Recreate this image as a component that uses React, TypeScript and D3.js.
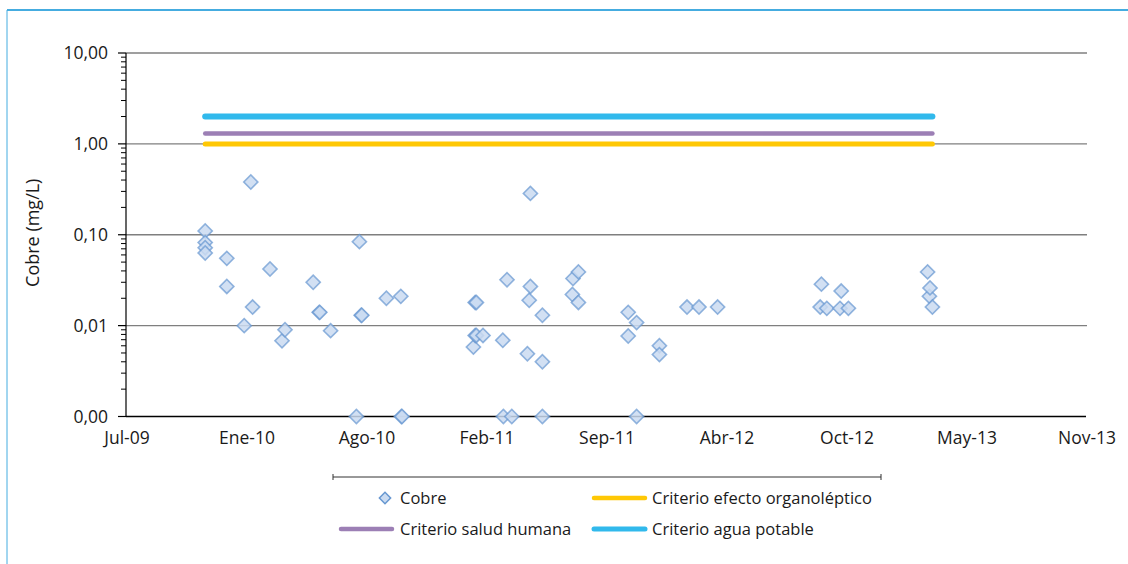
import React from "react";
import * as d3 from "d3";

// Copper samples: [date, mg/L]. Values at 0.001 are below detection and sit on the axis floor.
const cobreDates: string[] = [
  "2009-11-15", "2009-11-15", "2009-11-15", "2009-11-15",
  "2009-12-21", "2009-12-21",
  "2010-01-19", "2010-01-30", "2010-02-02", "2010-03-03",
  "2010-03-23", "2010-03-28", "2010-05-14", "2010-05-24", "2010-05-25",
  "2010-06-12", "2010-07-25", "2010-07-30", "2010-08-02", "2010-08-03",
  "2010-09-13", "2010-10-07", "2010-10-08", "2010-10-09",
  "2011-02-05", "2011-02-08", "2011-02-08", "2011-02-10", "2011-02-10", "2011-02-21",
  "2011-03-26", "2011-03-27", "2011-04-02", "2011-04-10",
  "2011-05-06", "2011-05-09", "2011-05-11", "2011-05-11",
  "2011-05-31", "2011-05-31", "2011-05-31",
  "2011-07-20", "2011-07-21", "2011-07-30", "2011-07-30",
  "2011-10-21", "2011-10-21", "2011-11-04", "2011-11-04",
  "2011-12-12", "2011-12-12",
  "2012-01-27", "2012-02-16", "2012-03-18",
  "2012-09-05", "2012-09-07", "2012-09-16",
  "2012-10-08", "2012-10-10", "2012-10-22",
  "2013-03-03", "2013-03-06", "2013-03-07", "2013-03-11",
];
const cobreValues: number[] = [
  0.11, 0.082, 0.072, 0.063,
  0.055, 0.027,
  0.010, 0.38, 0.016, 0.042,
  0.0068, 0.009, 0.030, 0.014, 0.014,
  0.0088, 0.001, 0.084, 0.013, 0.013,
  0.020, 0.021, 0.001, 0.001,
  0.0058, 0.018, 0.0078, 0.018, 0.0078, 0.0078,
  0.0069, 0.001, 0.032, 0.001,
  0.0049, 0.019, 0.285, 0.027,
  0.013, 0.004, 0.001,
  0.022, 0.033, 0.039, 0.018,
  0.014, 0.0077, 0.0108, 0.001,
  0.006, 0.0048,
  0.016, 0.016, 0.016,
  0.016, 0.0286, 0.0155,
  0.0155, 0.024, 0.0155,
  0.039, 0.021, 0.026, 0.016,
];

// Guideline values (mg/L)
const criterioOrganoleptico = 1.0;
const criterioSaludHumana = 1.3;
const criterioAguaPotable = 2.0;

// Axis ticks
const xTickDates: string[] = [
  "2009-07-06", "2010-01-22", "2010-08-10", "2011-02-26", "2011-09-14",
  "2012-04-01", "2012-10-18", "2013-05-06", "2013-11-22",
];
const xTickLabels: string[] = [
  "Jul-09", "Ene-10", "Ago-10", "Feb-11", "Sep-11", "Abr-12", "Oct-12", "May-13", "Nov-13",
];
const yTickValues: number[] = [0.001, 0.01, 0.1, 1, 10];
const yTickLabels: string[] = ["0,00", "0,01", "0,10", "1,00", "10,00"];

const legendLabels: string[] = [
  "Cobre",
  "Criterio efecto organoléptico",
  "Criterio salud humana",
  "Criterio agua potable",
];

const W = 1128;
const H = 564;
const FONT = "'Open Sans', 'Noto Sans', sans-serif";
const C_YELLOW = "#ffc805";
const C_PURPLE = "#9c7fb5";
const C_BLUE = "#31b9ec";
const TEXT = "#1a1a1a";

const parse = (s: string) => new Date(s + "T00:00:00Z");

export default function App() {
  const x = d3
    .scaleUtc()
    .domain([parse(xTickDates[0]), parse(xTickDates[xTickDates.length - 1])])
    .range([126, 1086]);
  const y = d3.scaleLog().domain([0.001, 10]).range([416.5, 53]);

  const points = cobreDates.map((d, i) => ({ date: parse(d), value: cobreValues[i] }));
  const sampleDates = Array.from(new Set(cobreDates)).map(parse);

  const diamond = d3.symbol(d3.symbolSquare, 100)()!;

  const criteria = [
    { value: criterioOrganoleptico, color: C_YELLOW, width: 5 },
    { value: criterioSaludHumana, color: C_PURPLE, width: 4.5 },
    { value: criterioAguaPotable, color: C_BLUE, width: 6 },
  ];
  const lineGen = (v: number) =>
    d3
      .line<Date>()
      .x((d) => x(d))
      .y(() => y(v))(sampleDates)!;

  // Minor log ticks (2..9 within each decade)
  const minor: number[] = [];
  for (let e = -3; e < 1; e++) {
    for (let m = 2; m <= 9; m++) minor.push(m * Math.pow(10, e));
  }

  const [x0, x1] = x.range();

  return (
    <svg width={W} height={H} style={{ display: "block", position: "absolute", left: 0, top: 0 }}>
      <rect width={W} height={H} fill="#fff" />
      {/* frame */}
      <line x1={7} x2={W} y1={10} y2={10} stroke="#45ace0" strokeWidth={2} />
      <line x1={7} x2={7} y1={10} y2={H} stroke="#45ace0" strokeWidth={1} />

      {/* gridlines */}
      {yTickValues.slice(1).map((v) => (
        <line key={v} x1={x0} x2={x1 + 1} y1={y(v)} y2={y(v)} stroke="#7f7f7f" strokeWidth={1.3} />
      ))}

      {/* y axis */}
      <line x1={x0} x2={x0} y1={y(10)} y2={y(0.001)} stroke="#000" strokeWidth={1.2} />
      {minor.map((v) => (
        <line key={v} x1={x0 - 5} x2={x0} y1={y(v)} y2={y(v)} stroke="#000" strokeWidth={1} />
      ))}
      {yTickValues.map((v, i) => (
        <g key={v}>
          <line x1={x0 - 8} x2={x0} y1={y(v)} y2={y(v)} stroke="#000" strokeWidth={1.2} />
          <text
            x={108}
            y={y(v)}
            dy="0.35em"
            textAnchor="end"
            fontFamily={FONT}
            fontSize={17.5}
            fill={TEXT}
          >
            {yTickLabels[i]}
          </text>
        </g>
      ))}
      <text
        transform={`translate(39,${(y(10) + y(0.001)) / 2 - 2}) rotate(-90)`}
        textAnchor="middle"
        fontFamily={FONT}
        fontSize={18}
        fill={TEXT}
      >
        Cobre (mg/L)
      </text>

      {/* x axis */}
      <line x1={x0} x2={x1} y1={y(0.001)} y2={y(0.001)} stroke="#000" strokeWidth={1.3} />
      {xTickDates.map((d, i) => (
        <text
          key={d}
          x={x(parse(d)) + 1}
          y={444}
          textAnchor="middle"
          fontFamily={FONT}
          fontSize={17.5}
          fill={TEXT}
        >
          {xTickLabels[i]}
        </text>
      ))}

      {/* copper samples */}
      {points.map((p, i) => (
        <path
          key={i}
          d={diamond}
          transform={`translate(${x(p.date)},${y(p.value)}) rotate(45)`}
          fill="#cadbf1"
          fillOpacity={0.85}
          stroke="#6596d0"
          strokeOpacity={0.7}
          strokeWidth={1.6}
        />
      ))}

      {/* guideline series */}
      {criteria.map((c) => (
        <path
          key={c.value}
          d={lineGen(c.value)}
          fill="none"
          stroke={c.color}
          strokeWidth={c.width}
          strokeLinecap="round"
        />
      ))}

      {/* legend */}
      <line x1={333} x2={881} y1={477} y2={477} stroke="#333" strokeWidth={1} />
      <line x1={333} x2={333} y1={474} y2={480} stroke="#333" strokeWidth={1} />
      <line x1={881} x2={881} y1={474} y2={480} stroke="#333" strokeWidth={1} />

      <path
        d={diamond}
        transform="translate(385,498) rotate(45) scale(0.8)"
        fill="#cadbf1"
        stroke="#6596d0"
        strokeWidth={1.8}
      />
      <text x={400} y={504} fontFamily={FONT} fontSize={16.5} fill={TEXT}>
        {legendLabels[0]}
      </text>

      <line x1={594} x2={645} y1={498} y2={498} stroke={C_YELLOW} strokeWidth={4.5} strokeLinecap="round" />
      <text x={652} y={504} fontFamily={FONT} fontSize={16.5} fill={TEXT}>
        {legendLabels[1]}
      </text>

      <line x1={341} x2={392} y1={529} y2={529} stroke={C_PURPLE} strokeWidth={4.5} strokeLinecap="round" />
      <text x={400} y={535} fontFamily={FONT} fontSize={16.5} fill={TEXT}>
        {legendLabels[2]}
      </text>

      <line x1={594} x2={645} y1={529} y2={529} stroke={C_BLUE} strokeWidth={5} strokeLinecap="round" />
      <text x={652} y={535} fontFamily={FONT} fontSize={16.5} fill={TEXT}>
        {legendLabels[3]}
      </text>
    </svg>
  );
}
